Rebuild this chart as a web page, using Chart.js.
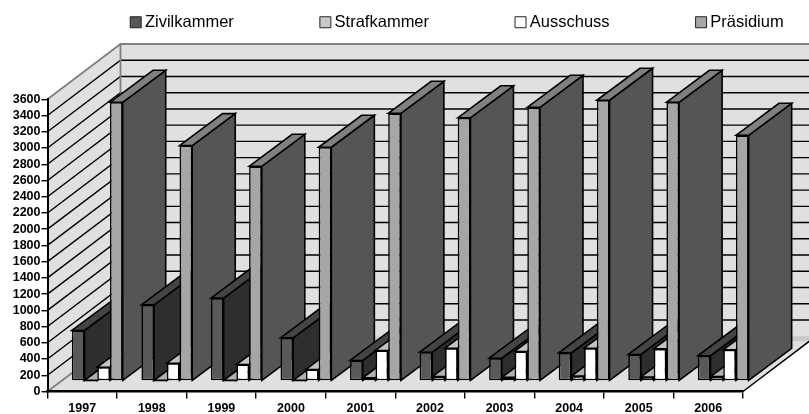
<!DOCTYPE html>
<html><head><meta charset="utf-8">
<style>html,body{margin:0;padding:0;background:#fff}#w{width:809px;height:414px;position:relative}</style>
<script src="https://cdn.jsdelivr.net/npm/chart.js@4"></script>
</head><body><div id="w"><canvas id="c" width="809" height="414"></canvas></div>
<script>
const years = ['1997','1998','1999','2000','2001','2002','2003','2004','2005','2006'];
const zivilkammer = [623,939,1021,532,253,355,281,347,327,311];
const strafkammer = [8,8,8,8,40,55,45,60,50,55];
const ausschuss = [170,219,203,142,376,404,364,404,397,385];
const praesidium = [3434,2900,2645,2880,3298,3243,3372,3459,3434,3027];
const seriesNames = ['Zivilkammer','Strafkammer','Ausschuss','Präsidium'];
const frontColors = ['#595959','#c0c0c0','#ffffff','#a6a6a6'];
const sideColors = ['#2e2e2e','#555555','#808080','#555555'];
const topColors = ['#444444','#b0b0b0','#c4c4c4','#808080'];
const legendColors = ['#595959','#c8c8c8','#ffffff','#a6a6a6'];
const WALL = {x:73,y:-55.3}, START = {x:15,y:-10.5}, DEPTH = {x:43,y:-32};
const FLOOR_GREY = '#e0e0e0', EDGE = '#808080';

const stage = {
  id:'stage',
  afterLayout(chart){
    const l = chart.legend;
    l.left = 44.2; l.right = 1000; l.top = -76.5; l.bottom = 40;
  },
  beforeDraw(chart){
    const {ctx,chartArea:a,scales:{y}} = chart;
    const w = chart.width;
    const y0 = y.getPixelForValue(0), yT = y.getPixelForValue(3600);
    ctx.save();
    ctx.fillStyle = '#fff'; ctx.fillRect(0,0,w,chart.height);
    ctx.fillStyle = FLOOR_GREY;
    const bx = a.left+WALL.x;
    ctx.fillRect(bx,yT+WALL.y,w-bx,y0-yT);
    ctx.beginPath();ctx.moveTo(a.left,yT);ctx.lineTo(bx,yT+WALL.y);ctx.lineTo(bx,y0+WALL.y);ctx.lineTo(a.left,y0);ctx.closePath();ctx.fill();
    ctx.beginPath();ctx.moveTo(a.left,y0);ctx.lineTo(a.right,y0);ctx.lineTo(a.right+WALL.x,y0+WALL.y);ctx.lineTo(bx,y0+WALL.y);ctx.closePath();ctx.fill();
    ctx.fillStyle='#cacaca';
    ctx.beginPath();ctx.moveTo(bx,y0+WALL.y);ctx.lineTo(w,y0+WALL.y);ctx.lineTo(w,y0+WALL.y+5);ctx.lineTo(bx,y0+WALL.y+5);ctx.closePath();ctx.fill();
    ctx.lineWidth=1.4;ctx.strokeStyle='#000';
    y.ticks.forEach(t=>{
      if(t.value===0||t.value===3600)return;
      const p=y.getPixelForValue(t.value);
      ctx.beginPath();ctx.moveTo(a.left,p);ctx.lineTo(bx,p+WALL.y);ctx.lineTo(w,p+WALL.y);ctx.stroke();
    });
    ctx.strokeStyle=EDGE;ctx.lineWidth=1.8;
    ctx.beginPath();ctx.moveTo(a.left,yT);ctx.lineTo(bx,yT+WALL.y);ctx.lineTo(w,yT+WALL.y);ctx.moveTo(bx,yT+WALL.y);ctx.lineTo(bx,y0+WALL.y);ctx.moveTo(a.left,y0);ctx.lineTo(bx,y0+WALL.y);ctx.stroke();
    ctx.strokeStyle='#000';ctx.lineWidth=1.4;
    ctx.beginPath();ctx.moveTo(a.right,y0);ctx.lineTo(a.right+WALL.x,y0+WALL.y);ctx.stroke();
    ctx.restore();
  },
  beforeDatasetsDraw(chart){
    const ctx = chart.ctx;
    ctx.save();
    ctx.translate(START.x,START.y);
    ctx.lineJoin='miter';
    years.forEach((_,i)=>{
      chart.data.datasets.forEach((ds,d)=>{
        const b = chart.getDatasetMeta(d).data[i];
        const L=b.x-b.width/2, R=b.x+b.width/2, T=b.y, B=b.base;
        ctx.strokeStyle='#000';ctx.lineWidth=1.6;
        ctx.fillStyle=sideColors[d];
        ctx.beginPath();ctx.moveTo(R,T);ctx.lineTo(R+DEPTH.x,T+DEPTH.y);ctx.lineTo(R+DEPTH.x,B+DEPTH.y);ctx.lineTo(R,B);ctx.closePath();ctx.fill();ctx.stroke();
        ctx.fillStyle=topColors[d];
        ctx.beginPath();ctx.moveTo(L,T);ctx.lineTo(L+DEPTH.x,T+DEPTH.y);ctx.lineTo(R+DEPTH.x,T+DEPTH.y);ctx.lineTo(R,T);ctx.closePath();ctx.fill();ctx.stroke();
        b.draw(ctx);
      });
    });
    ctx.restore();
    return false;
  }
};

new Chart(document.getElementById('c'),{
  type:'bar',
  data:{labels:years,datasets:[zivilkammer,strafkammer,ausschuss,praesidium].map((v,i)=>({
    label:seriesNames[i],data:v,backgroundColor:frontColors[i],borderColor:'#000',borderWidth:1.6,borderSkipped:false,
    categoryPercentage:0.731,barPercentage:1
  }))},
  plugins:[stage],
  options:{
    responsive:false,animation:false,
    layout:{padding:{top:98.3,right:66,left:0,bottom:0}},
    plugins:{
      tooltip:{enabled:false},
      legend:{display:true,position:'top',align:'start',maxHeight:1,maxWidth:2000,
        labels:{
          usePointStyle:true,pointStyle:'rect',boxWidth:2,boxHeight:11,padding:90.5,color:'#000',
          font:{family:'"Liberation Sans",Arial,sans-serif',size:16.5},
          generateLabels(chart){
            return chart.data.datasets.map((ds,i)=>({text:ds.label,fillStyle:legendColors[i],strokeStyle:'#222',lineWidth:1,pointStyle:'rect',hidden:false,datasetIndex:i,fontColor:'#000'}));
          }
        }
      }
    },
    scales:{
      x:{
        afterFit(s){s.height=22.5},
        grid:{drawOnChartArea:false,drawTicks:true,tickLength:7,color:'#000',lineWidth:1.4},
        border:{color:'#000',width:2.4},
        ticks:{color:'#000',padding:3,maxRotation:0,autoSkip:false,font:{family:'"Liberation Sans",Arial,sans-serif',size:12.5,weight:'bold'}}
      },
      y:{
        min:0,max:3600,
        afterFit(s){s.width=47.5},
        grid:{drawOnChartArea:false,drawTicks:true,tickLength:6,color:'#000',lineWidth:1.4},
        border:{color:'#000',width:2},
        ticks:{stepSize:200,color:'#000',padding:1,autoSkip:false,format:{useGrouping:false},font:{family:'"Liberation Sans",Arial,sans-serif',size:12.5,weight:'bold'}}
      }
    }
  }
});
</script></body></html>
